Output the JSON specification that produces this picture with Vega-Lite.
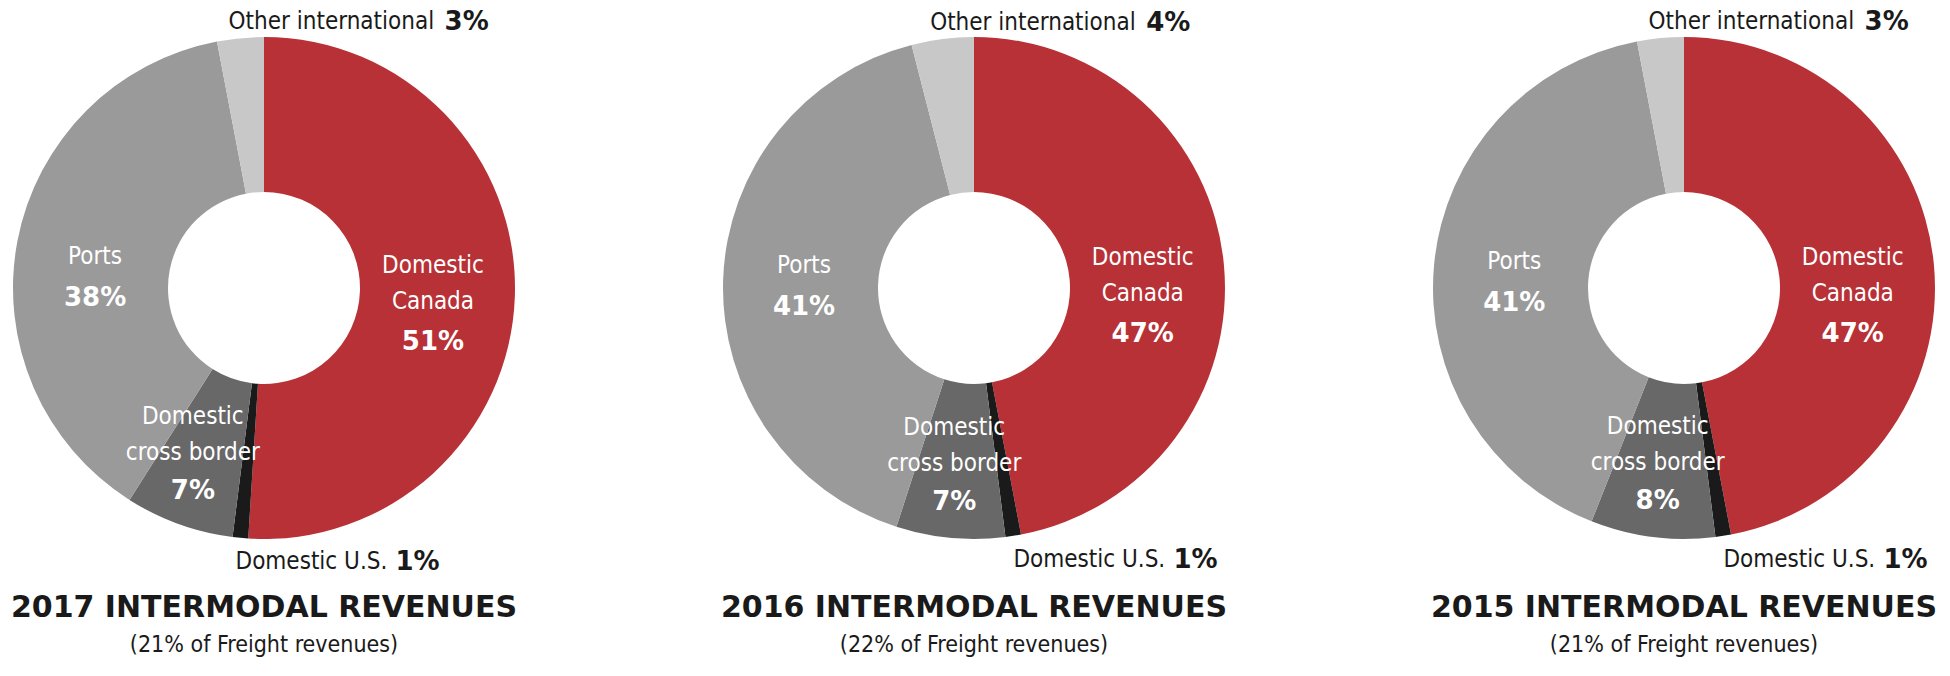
{
  "$schema": "https://vega.github.io/schema/vega-lite/v6.json",
  "padding": 0,
  "background": "white",
  "spacing": 182,
  "bounds": "flush",
  "config": {"view": {"stroke": null}},
  "data": {"values": [
    {"year": 2017, "cat": "Domestic Canada", "label": "Domestic\nCanada", "share": 0.51, "ord": 1},
    {"year": 2017, "cat": "Domestic U.S.", "label": "Domestic U.S.", "share": 0.01, "ord": 2},
    {"year": 2017, "cat": "Domestic cross border", "label": "Domestic\ncross border", "share": 0.07, "ord": 3},
    {"year": 2017, "cat": "Ports", "label": "Ports", "share": 0.38, "ord": 4},
    {"year": 2017, "cat": "Other international", "label": "Other international", "share": 0.03, "ord": 5},
    {"year": 2016, "cat": "Domestic Canada", "label": "Domestic\nCanada", "share": 0.47, "ord": 1},
    {"year": 2016, "cat": "Domestic U.S.", "label": "Domestic U.S.", "share": 0.01, "ord": 2},
    {"year": 2016, "cat": "Domestic cross border", "label": "Domestic\ncross border", "share": 0.07, "ord": 3},
    {"year": 2016, "cat": "Ports", "label": "Ports", "share": 0.41, "ord": 4},
    {"year": 2016, "cat": "Other international", "label": "Other international", "share": 0.04, "ord": 5},
    {"year": 2015, "cat": "Domestic Canada", "label": "Domestic\nCanada", "share": 0.47, "ord": 1},
    {"year": 2015, "cat": "Domestic U.S.", "label": "Domestic U.S.", "share": 0.01, "ord": 2},
    {"year": 2015, "cat": "Domestic cross border", "label": "Domestic\ncross border", "share": 0.08, "ord": 3},
    {"year": 2015, "cat": "Ports", "label": "Ports", "share": 0.41, "ord": 4},
    {"year": 2015, "cat": "Other international", "label": "Other international", "share": 0.03, "ord": 5}
  ]},
  "hconcat": [
    {
      "width": 528, "height": 576,
      "transform": [{"filter": "datum.year == 2017"}],
      "title": {"text": "2017 INTERMODAL REVENUES", "subtitle": "(21% of Freight revenues)", "orient": "bottom", "anchor": "middle", "offset": 17, "font": "DejaVu Sans", "fontSize": 30, "fontWeight": "bold", "color": "#1a1a1a", "subtitleFont": "DejaVu Sans Condensed", "subtitleFontSize": 23, "subtitleColor": "#1a1a1a", "subtitlePadding": 11},
      "encoding": {
        "theta": {"field": "share", "type": "quantitative", "stack": true},
        "order": {"field": "ord", "type": "quantitative"},
        "detail": {"field": "cat", "type": "nominal"}
      },
      "layer": [
        {"mark": {"type": "arc", "outerRadius": 251, "innerRadius": 96}, "encoding": {"color": {"field": "cat", "type": "nominal", "legend": null, "scale": {"domain": ["Domestic Canada", "Domestic U.S.", "Domestic cross border", "Ports", "Other international"], "range": ["#b83136", "#1a1a1a", "#686868", "#9a9a9a", "#c8c8c8"]}}}},
        {"mark": {"type": "text", "clip": true, "radius": 60, "dx": 109, "dy": -24, "color": "white", "font": "DejaVu Sans Condensed", "fontSize": 24, "lineBreak": "\n", "lineHeight": 36, "baseline": "middle", "align": "center"}, "encoding": {"text": {"condition": {"test": "datum.cat === 'Domestic Canada'", "field": "label", "type": "nominal"}, "value": ""}}},
        {"mark": {"type": "text", "clip": true, "radius": 60, "dx": 109, "dy": 52, "color": "white", "font": "DejaVu Sans", "fontWeight": "bold", "fontSize": 26, "baseline": "middle", "align": "center"}, "encoding": {"text": {"condition": {"test": "datum.cat === 'Domestic Canada'", "field": "share", "type": "quantitative", "format": ".0%"}, "value": ""}}},
        {"mark": {"type": "text", "clip": true, "radius": 60, "dx": -110, "dy": -20, "color": "white", "font": "DejaVu Sans Condensed", "fontSize": 24, "lineBreak": "\n", "lineHeight": 36, "baseline": "middle", "align": "center"}, "encoding": {"text": {"condition": {"test": "datum.cat === 'Ports'", "field": "label", "type": "nominal"}, "value": ""}}},
        {"mark": {"type": "text", "clip": true, "radius": 60, "dx": -110, "dy": 21, "color": "white", "font": "DejaVu Sans", "fontWeight": "bold", "fontSize": 26, "baseline": "middle", "align": "center"}, "encoding": {"text": {"condition": {"test": "datum.cat === 'Ports'", "field": "share", "type": "quantitative", "format": ".0%"}, "value": ""}}},
        {"mark": {"type": "text", "clip": true, "radius": 210, "dy": -69, "color": "white", "font": "DejaVu Sans Condensed", "fontSize": 24, "lineBreak": "\n", "lineHeight": 36, "baseline": "middle", "align": "center"}, "encoding": {"text": {"condition": {"test": "datum.cat === 'Domestic cross border'", "field": "label", "type": "nominal"}, "value": ""}}},
        {"mark": {"type": "text", "clip": true, "radius": 210, "dy": 5, "color": "white", "font": "DejaVu Sans", "fontWeight": "bold", "fontSize": 26, "baseline": "middle", "align": "center"}, "encoding": {"text": {"condition": {"test": "datum.cat === 'Domestic cross border'", "field": "share", "type": "quantitative", "format": ".0%"}, "value": ""}}},
        {"mark": {"type": "text", "clip": true, "radius": 270, "dx": -10, "dy": 3, "color": "#1a1a1a", "font": "DejaVu Sans Condensed", "fontSize": 24, "baseline": "middle", "align": "left"}, "encoding": {"text": {"condition": {"test": "datum.cat === 'Other international'", "field": "label", "type": "nominal"}, "value": ""}}},
        {"mark": {"type": "text", "clip": true, "radius": 270, "dx": 206, "dy": 3, "color": "#1a1a1a", "font": "DejaVu Sans", "fontWeight": "bold", "fontSize": 26, "baseline": "middle", "align": "left"}, "encoding": {"text": {"condition": {"test": "datum.cat === 'Other international'", "field": "share", "type": "quantitative", "format": ".0%"}, "value": ""}}},
        {"mark": {"type": "text", "clip": true, "radius": 271, "dx": -3, "dy": 4, "color": "#1a1a1a", "font": "DejaVu Sans Condensed", "fontSize": 24, "baseline": "middle", "align": "left"}, "encoding": {"text": {"condition": {"test": "datum.cat === 'Domestic U.S.'", "field": "label", "type": "nominal"}, "value": ""}}},
        {"mark": {"type": "text", "clip": true, "radius": 271, "dx": 157, "dy": 4, "color": "#1a1a1a", "font": "DejaVu Sans", "fontWeight": "bold", "fontSize": 26, "baseline": "middle", "align": "left"}, "encoding": {"text": {"condition": {"test": "datum.cat === 'Domestic U.S.'", "field": "share", "type": "quantitative", "format": ".0%"}, "value": ""}}}
      ]
    },
    {
      "width": 528, "height": 576,
      "transform": [{"filter": "datum.year == 2016"}],
      "title": {"text": "2016 INTERMODAL REVENUES", "subtitle": "(22% of Freight revenues)", "orient": "bottom", "anchor": "middle", "offset": 17, "font": "DejaVu Sans", "fontSize": 30, "fontWeight": "bold", "color": "#1a1a1a", "subtitleFont": "DejaVu Sans Condensed", "subtitleFontSize": 23, "subtitleColor": "#1a1a1a", "subtitlePadding": 11},
      "encoding": {
        "theta": {"field": "share", "type": "quantitative", "stack": true},
        "order": {"field": "ord", "type": "quantitative"},
        "detail": {"field": "cat", "type": "nominal"}
      },
      "layer": [
        {"mark": {"type": "arc", "outerRadius": 251, "innerRadius": 96}, "encoding": {"color": {"field": "cat", "type": "nominal", "legend": null, "scale": {"domain": ["Domestic Canada", "Domestic U.S.", "Domestic cross border", "Ports", "Other international"], "range": ["#b83136", "#1a1a1a", "#686868", "#9a9a9a", "#c8c8c8"]}}}},
        {"mark": {"type": "text", "clip": true, "radius": 60, "dx": 109, "dy": -24, "color": "white", "font": "DejaVu Sans Condensed", "fontSize": 24, "lineBreak": "\n", "lineHeight": 36, "baseline": "middle", "align": "center"}, "encoding": {"text": {"condition": {"test": "datum.cat === 'Domestic Canada'", "field": "label", "type": "nominal"}, "value": ""}}},
        {"mark": {"type": "text", "clip": true, "radius": 60, "dx": 109, "dy": 52, "color": "white", "font": "DejaVu Sans", "fontWeight": "bold", "fontSize": 26, "baseline": "middle", "align": "center"}, "encoding": {"text": {"condition": {"test": "datum.cat === 'Domestic Canada'", "field": "share", "type": "quantitative", "format": ".0%"}, "value": ""}}},
        {"mark": {"type": "text", "clip": true, "radius": 60, "dx": -110, "dy": -20, "color": "white", "font": "DejaVu Sans Condensed", "fontSize": 24, "lineBreak": "\n", "lineHeight": 36, "baseline": "middle", "align": "center"}, "encoding": {"text": {"condition": {"test": "datum.cat === 'Ports'", "field": "label", "type": "nominal"}, "value": ""}}},
        {"mark": {"type": "text", "clip": true, "radius": 60, "dx": -110, "dy": 21, "color": "white", "font": "DejaVu Sans", "fontWeight": "bold", "fontSize": 26, "baseline": "middle", "align": "center"}, "encoding": {"text": {"condition": {"test": "datum.cat === 'Ports'", "field": "share", "type": "quantitative", "format": ".0%"}, "value": ""}}},
        {"mark": {"type": "text", "clip": true, "radius": 210, "dy": -69, "color": "white", "font": "DejaVu Sans Condensed", "fontSize": 24, "lineBreak": "\n", "lineHeight": 36, "baseline": "middle", "align": "center"}, "encoding": {"text": {"condition": {"test": "datum.cat === 'Domestic cross border'", "field": "label", "type": "nominal"}, "value": ""}}},
        {"mark": {"type": "text", "clip": true, "radius": 210, "dy": 5, "color": "white", "font": "DejaVu Sans", "fontWeight": "bold", "fontSize": 26, "baseline": "middle", "align": "center"}, "encoding": {"text": {"condition": {"test": "datum.cat === 'Domestic cross border'", "field": "share", "type": "quantitative", "format": ".0%"}, "value": ""}}},
        {"mark": {"type": "text", "clip": true, "radius": 270, "dx": -10, "dy": 3, "color": "#1a1a1a", "font": "DejaVu Sans Condensed", "fontSize": 24, "baseline": "middle", "align": "left"}, "encoding": {"text": {"condition": {"test": "datum.cat === 'Other international'", "field": "label", "type": "nominal"}, "value": ""}}},
        {"mark": {"type": "text", "clip": true, "radius": 270, "dx": 206, "dy": 3, "color": "#1a1a1a", "font": "DejaVu Sans", "fontWeight": "bold", "fontSize": 26, "baseline": "middle", "align": "left"}, "encoding": {"text": {"condition": {"test": "datum.cat === 'Other international'", "field": "share", "type": "quantitative", "format": ".0%"}, "value": ""}}},
        {"mark": {"type": "text", "clip": true, "radius": 271, "dx": -3, "dy": 4, "color": "#1a1a1a", "font": "DejaVu Sans Condensed", "fontSize": 24, "baseline": "middle", "align": "left"}, "encoding": {"text": {"condition": {"test": "datum.cat === 'Domestic U.S.'", "field": "label", "type": "nominal"}, "value": ""}}},
        {"mark": {"type": "text", "clip": true, "radius": 271, "dx": 157, "dy": 4, "color": "#1a1a1a", "font": "DejaVu Sans", "fontWeight": "bold", "fontSize": 26, "baseline": "middle", "align": "left"}, "encoding": {"text": {"condition": {"test": "datum.cat === 'Domestic U.S.'", "field": "share", "type": "quantitative", "format": ".0%"}, "value": ""}}}
      ]
    },
    {
      "width": 528, "height": 576,
      "transform": [{"filter": "datum.year == 2015"}],
      "title": {"text": "2015 INTERMODAL REVENUES", "subtitle": "(21% of Freight revenues)", "orient": "bottom", "anchor": "middle", "offset": 17, "font": "DejaVu Sans", "fontSize": 30, "fontWeight": "bold", "color": "#1a1a1a", "subtitleFont": "DejaVu Sans Condensed", "subtitleFontSize": 23, "subtitleColor": "#1a1a1a", "subtitlePadding": 11},
      "encoding": {
        "theta": {"field": "share", "type": "quantitative", "stack": true},
        "order": {"field": "ord", "type": "quantitative"},
        "detail": {"field": "cat", "type": "nominal"}
      },
      "layer": [
        {"mark": {"type": "arc", "outerRadius": 251, "innerRadius": 96}, "encoding": {"color": {"field": "cat", "type": "nominal", "legend": null, "scale": {"domain": ["Domestic Canada", "Domestic U.S.", "Domestic cross border", "Ports", "Other international"], "range": ["#b83136", "#1a1a1a", "#686868", "#9a9a9a", "#c8c8c8"]}}}},
        {"mark": {"type": "text", "clip": true, "radius": 60, "dx": 109, "dy": -24, "color": "white", "font": "DejaVu Sans Condensed", "fontSize": 24, "lineBreak": "\n", "lineHeight": 36, "baseline": "middle", "align": "center"}, "encoding": {"text": {"condition": {"test": "datum.cat === 'Domestic Canada'", "field": "label", "type": "nominal"}, "value": ""}}},
        {"mark": {"type": "text", "clip": true, "radius": 60, "dx": 109, "dy": 52, "color": "white", "font": "DejaVu Sans", "fontWeight": "bold", "fontSize": 26, "baseline": "middle", "align": "center"}, "encoding": {"text": {"condition": {"test": "datum.cat === 'Domestic Canada'", "field": "share", "type": "quantitative", "format": ".0%"}, "value": ""}}},
        {"mark": {"type": "text", "clip": true, "radius": 60, "dx": -110, "dy": -20, "color": "white", "font": "DejaVu Sans Condensed", "fontSize": 24, "lineBreak": "\n", "lineHeight": 36, "baseline": "middle", "align": "center"}, "encoding": {"text": {"condition": {"test": "datum.cat === 'Ports'", "field": "label", "type": "nominal"}, "value": ""}}},
        {"mark": {"type": "text", "clip": true, "radius": 60, "dx": -110, "dy": 21, "color": "white", "font": "DejaVu Sans", "fontWeight": "bold", "fontSize": 26, "baseline": "middle", "align": "center"}, "encoding": {"text": {"condition": {"test": "datum.cat === 'Ports'", "field": "share", "type": "quantitative", "format": ".0%"}, "value": ""}}},
        {"mark": {"type": "text", "clip": true, "radius": 210, "dy": -69, "color": "white", "font": "DejaVu Sans Condensed", "fontSize": 24, "lineBreak": "\n", "lineHeight": 36, "baseline": "middle", "align": "center"}, "encoding": {"text": {"condition": {"test": "datum.cat === 'Domestic cross border'", "field": "label", "type": "nominal"}, "value": ""}}},
        {"mark": {"type": "text", "clip": true, "radius": 210, "dy": 5, "color": "white", "font": "DejaVu Sans", "fontWeight": "bold", "fontSize": 26, "baseline": "middle", "align": "center"}, "encoding": {"text": {"condition": {"test": "datum.cat === 'Domestic cross border'", "field": "share", "type": "quantitative", "format": ".0%"}, "value": ""}}},
        {"mark": {"type": "text", "clip": true, "radius": 270, "dx": -10, "dy": 3, "color": "#1a1a1a", "font": "DejaVu Sans Condensed", "fontSize": 24, "baseline": "middle", "align": "left"}, "encoding": {"text": {"condition": {"test": "datum.cat === 'Other international'", "field": "label", "type": "nominal"}, "value": ""}}},
        {"mark": {"type": "text", "clip": true, "radius": 270, "dx": 206, "dy": 3, "color": "#1a1a1a", "font": "DejaVu Sans", "fontWeight": "bold", "fontSize": 26, "baseline": "middle", "align": "left"}, "encoding": {"text": {"condition": {"test": "datum.cat === 'Other international'", "field": "share", "type": "quantitative", "format": ".0%"}, "value": ""}}},
        {"mark": {"type": "text", "clip": true, "radius": 271, "dx": -3, "dy": 4, "color": "#1a1a1a", "font": "DejaVu Sans Condensed", "fontSize": 24, "baseline": "middle", "align": "left"}, "encoding": {"text": {"condition": {"test": "datum.cat === 'Domestic U.S.'", "field": "label", "type": "nominal"}, "value": ""}}},
        {"mark": {"type": "text", "clip": true, "radius": 271, "dx": 157, "dy": 4, "color": "#1a1a1a", "font": "DejaVu Sans", "fontWeight": "bold", "fontSize": 26, "baseline": "middle", "align": "left"}, "encoding": {"text": {"condition": {"test": "datum.cat === 'Domestic U.S.'", "field": "share", "type": "quantitative", "format": ".0%"}, "value": ""}}}
      ]
    }
  ]
}
